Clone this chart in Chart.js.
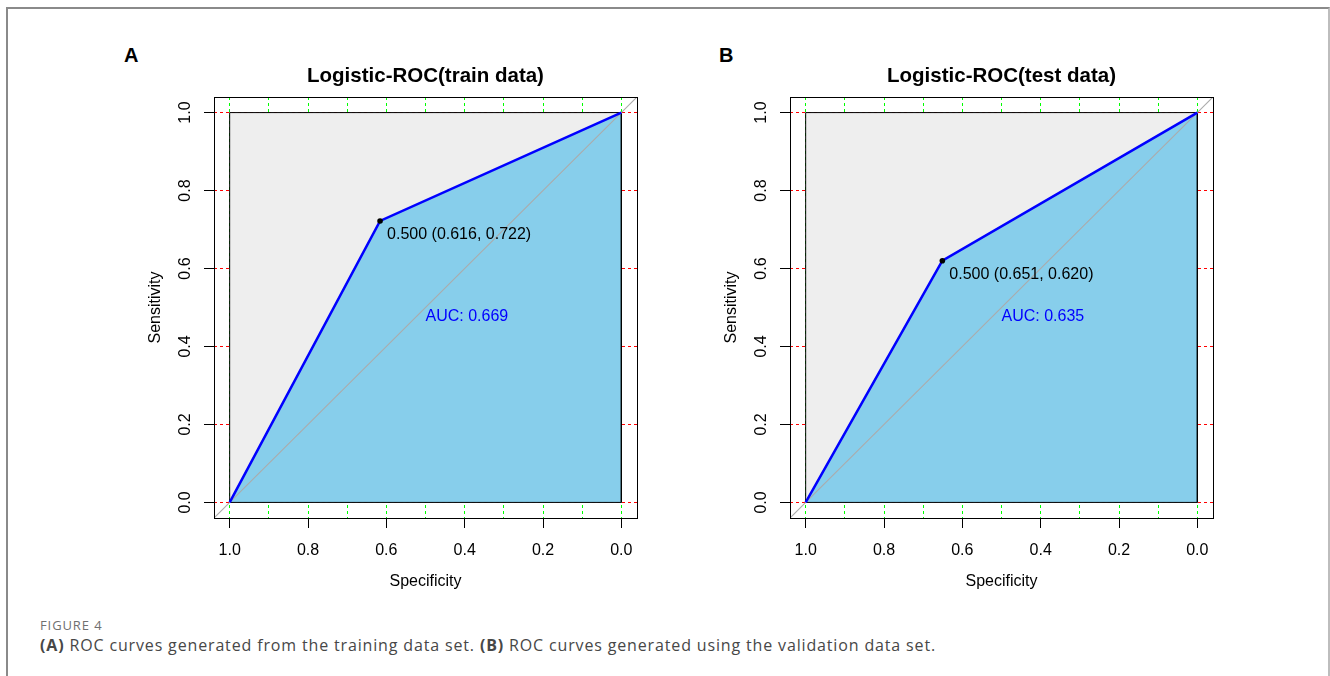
<!DOCTYPE html>
<html>
<head>
<meta charset="utf-8">
<script src="https://cdn.jsdelivr.net/npm/chart.js@4"></script>
<style>
  body { margin: 0; background: #fff; width: 1330px; height: 676px; overflow: hidden; position: relative; }
  #frame { position: absolute; left: 6px; top: 7px; width: 1320px; height: 720px;
           border: 2px solid #8a8a8a; border-right-color: #bdbdbd; border-bottom: none; }
  canvas { position: absolute; top: 0; }
  .letter { position: absolute; font: bold 20px "Liberation Sans", Arial, sans-serif; color: #000; }
  #figLabel { position: absolute; left: 40px; top: 616px; font: 13px "Open Sans", sans-serif; letter-spacing: 0.9px; color: #707070; }
  #figText { position: absolute; left: 40px; top: 634px; font: 16px "Open Sans", sans-serif; letter-spacing: 0.85px; color: #474747; white-space: nowrap; }
</style>
</head>
<body>
<div id="frame"></div>
<div class="letter" style="left:124px; top:44px;">A</div>
<div class="letter" style="left:719px; top:44px;">B</div>
<canvas id="rocTrain" width="665" height="610" style="left:0px;"></canvas>
<canvas id="rocTest" width="665" height="610" style="left:576px;"></canvas>
<div id="figLabel">FIGURE 4</div>
<div id="figText"><b>(A)</b> ROC curves generated from the training data set. <b>(B)</b> ROC curves generated using the validation data set.</div>
<script>
// ROC points (specificity, sensitivity)
const specTrain = [1, 0.616, 0];
const sensTrain = [0, 0.722, 1];
const specTest = [1, 0.651, 0];
const sensTest = [0, 0.620, 1];

const aucValues = [0.669, 0.635];
const bestThresholds = [0.500, 0.500];
const panelTitles = ['Logistic-ROC(train data)', 'Logistic-ROC(test data)'];

// axes
const xGridValues = [0, 0.1, 0.2, 0.3, 0.4, 0.5, 0.6, 0.7, 0.8, 0.9, 1.0];
const xTickValues = [0, 0.2, 0.4, 0.6, 0.8, 1.0];
const yTickValues = [0, 0.2, 0.4, 0.6, 0.8, 1.0];
const axisMin = -0.04, axisMax = 1.04;

const FONT = '"Liberation Sans", Arial, sans-serif';

const isLabelled = v => xTickValues.some(t => Math.abs(t - v) < 1e-6);

const annotations = {
    id: 'annotations',
    afterDatasetsDraw(chart, args, opts) {
        const ctx = chart.ctx;
        const area = chart.chartArea;
        const ys = chart.scales.y;
        ctx.save();

        // box round the plot
        ctx.strokeStyle = '#000';
        ctx.lineWidth = 1;
        ctx.strokeRect(Math.round(area.left) + 0.5, Math.round(area.top) + 0.5,
                       Math.round(area.right - area.left), Math.round(area.bottom - area.top));

        // y tick labels, turned like R does
        ctx.fillStyle = '#000';
        ctx.font = '16px ' + FONT;
        ctx.textAlign = 'center';
        ctx.textBaseline = 'middle';
        for (const v of yTickValues) {
            ctx.save();
            ctx.translate(area.left - 28.5, ys.getPixelForValue(v));
            ctx.rotate(-Math.PI / 2);
            ctx.fillText(v.toFixed(1), 0, 0);
            ctx.restore();
        }

        // threshold label next to the point
        const pt = chart.getDatasetMeta(opts.pointIndex).data[0];
        ctx.textAlign = 'left';
        ctx.fillStyle = '#000';
        ctx.font = '16px ' + FONT;
        ctx.fillText(opts.thresholdText, pt.x + 7, pt.y + 14);

        // AUC text at (0.5, 0.5)
        ctx.fillStyle = '#0000FF';
        ctx.font = '16px ' + FONT;
        ctx.textBaseline = 'top';
        ctx.fillText(opts.aucText, chart.scales.x.getPixelForValue(0.5), ys.getPixelForValue(0.5) + 1);
        ctx.restore();
    }
};

function makeRoc(canvasId, title, spec, sens, auc, thr, bestIdx) {
    const curve = spec.map((s, i) => ({x: s, y: sens[i]}));
    const thresholdText = `${thr.toFixed(3)} (${spec[bestIdx].toFixed(3)}, ${sens[bestIdx].toFixed(3)})`;

    return new Chart(document.getElementById(canvasId), {
        type: 'line',
        data: {
            datasets: [
                {   // threshold point
                    data: [curve[bestIdx]],
                    showLine: false,
                    pointRadius: 2.8,
                    pointBackgroundColor: '#000',
                    pointBorderWidth: 0,
                    order: 1
                },
                {   // ROC curve
                    data: curve,
                    borderColor: '#0000FF',
                    borderWidth: 2.5,
                    pointRadius: 0,
                    fill: false,
                    order: 2
                },
                {   // identity line
                    data: [{x: axisMax, y: axisMin}, {x: axisMin, y: axisMax}],
                    borderColor: '#ABABAB',
                    borderWidth: 1.1,
                    pointRadius: 0,
                    fill: false,
                    order: 3
                },
                {   // outline of the max AUC polygon
                    data: [{x: 1, y: 0}, {x: 1, y: 1}, {x: 0, y: 1}, {x: 0, y: 0}, {x: 1, y: 0}],
                    borderColor: '#000',
                    borderWidth: 1,
                    pointRadius: 0,
                    fill: false,
                    order: 4
                },
                {   // AUC polygon
                    data: curve,
                    borderWidth: 0,
                    backgroundColor: '#87CEEB',
                    pointRadius: 0,
                    fill: {value: 0},
                    order: 5
                },
                {   // max AUC polygon
                    data: [{x: 1, y: 1}, {x: 0, y: 1}],
                    borderWidth: 0,
                    backgroundColor: '#EEEEEE',
                    pointRadius: 0,
                    fill: {value: 0},
                    order: 6
                }
            ]
        },
        options: {
            responsive: false,
            animation: false,
            layout: { padding: {left: 0, right: 28, top: 0, bottom: 0} },
            plugins: {
                legend: { display: false },
                tooltip: { enabled: false },
                title: {
                    display: true,
                    text: title,
                    fullSize: false,
                    color: '#000',
                    font: { family: FONT, size: 20.5, weight: 'bold' },
                    padding: { top: 64, bottom: 8.4 }
                },
                annotations: { pointIndex: 0, thresholdText, aucText: 'AUC: ' + auc.toFixed(3) }
            },
            scales: {
                x: {
                    type: 'linear',
                    reverse: true,
                    min: axisMin,
                    max: axisMax,
                    afterBuildTicks: s => { s.ticks = xGridValues.map(v => ({value: v})); },
                    afterFit: s => { s.height = 92; },
                    ticks: {
                        autoSkip: false,
                        maxRotation: 0,
                        padding: 13,
                        color: '#000',
                        font: { family: FONT, size: 16 },
                        callback: v => isLabelled(v) ? v.toFixed(1) : ''
                    },
                    grid: {
                        color: '#00FF00',
                        lineWidth: 1,
                        tickLength: 10,
                        tickWidth: 1,
                        tickColor: c => isLabelled(c.tick.value) ? '#000' : 'rgba(0,0,0,0)'
                    },
                    border: { display: false, dash: [3, 3] },
                    title: {
                        display: true,
                        text: 'Specificity',
                        color: '#000',
                        font: { family: FONT, size: 16 },
                        padding: { top: 0, bottom: 19 }
                    }
                },
                y: {
                    type: 'linear',
                    min: axisMin,
                    max: axisMax,
                    afterBuildTicks: s => { s.ticks = yTickValues.map(v => ({value: v})); },
                    afterFit: s => { s.width = 214; },
                    ticks: { display: false },
                    grid: {
                        color: '#FF0000',
                        lineWidth: 1,
                        tickLength: 10,
                        tickWidth: 1,
                        tickColor: '#000'
                    },
                    border: { display: false, dash: [3, 3] },
                    title: {
                        display: true,
                        text: 'Sensitivity',
                        color: '#000',
                        font: { family: FONT, size: 16 },
                        padding: { top: 146, bottom: 0 }
                    }
                }
            }
        },
        plugins: [annotations]
    });
}

makeRoc('rocTrain', panelTitles[0], specTrain, sensTrain, aucValues[0], bestThresholds[0], 1);
makeRoc('rocTest', panelTitles[1], specTest, sensTest, aucValues[1], bestThresholds[1], 1);
</script>
</body>
</html>
